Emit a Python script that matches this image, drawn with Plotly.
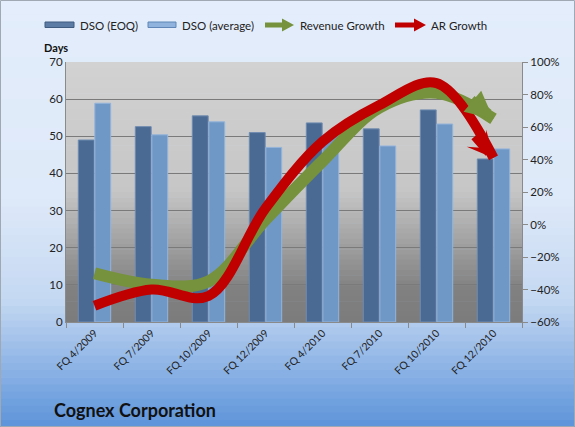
import plotly.graph_objects as go

# data
quarters = ["FQ 4/2009", "FQ 7/2009", "FQ 10/2009", "FQ 12/2009",
            "FQ 4/2010", "FQ 7/2010", "FQ 10/2010", "FQ 12/2010"]
dso_eoq = [49.0, 52.6, 55.5, 51.0, 53.6, 52.0, 57.1, 43.9]
dso_avg = [58.9, 50.4, 53.9, 47.0, 50.5, 47.4, 53.3, 46.6]
revenue_growth = [-0.30, -0.37, -0.35, 0.03, 0.39, 0.72, 0.81, 0.65]
ar_growth = [-0.50, -0.40, -0.44, 0.10, 0.51, 0.735, 0.87, 0.41]

W, H = 575, 427
M_L, M_R, M_T, M_B = 66, 53, 62, 105
PW, PH = W - M_L - M_R, H - M_T - M_B

EOQ_COL = "#4a6a93"
AVG_COL = "#7098c6"
REV_COL = "#76923c"
AR_COL = "#c00000"


def px_x(p):
    return (p - M_L) / PW


def px_y(p):
    return (H - M_B - p) / PH


def mix(c1, c2, t):
    return "rgb({},{},{})".format(*[round(a + (b - a) * t) for a, b in zip(c1, c2)])


def gradient(stops, x0, x1, y_top, y_bot, n=60):
    # stops: list of (pixel y, rgb tuple), drawn as thin horizontal bands
    shapes = []
    step = (y_bot - y_top) / n
    for i in range(n):
        ya = y_top + i * step
        yc = ya + step / 2
        col = mix(stops[-1][1], stops[-1][1], 0)
        for (p0, c0), (p1, c1) in zip(stops, stops[1:]):
            if p0 <= yc <= p1:
                col = mix(c0, c1, (yc - p0) / (p1 - p0))
                break
        shapes.append(dict(type="rect", xref="paper", yref="paper", layer="below",
                           x0=x0, x1=x1, y0=px_y(ya + step + 0.6), y1=px_y(ya),
                           line=dict(width=0), fillcolor=col))
    return shapes


def arrow_path(x0, x1, yc, half_shaft, head_len, half_head):
    xs = x1 - head_len
    pts = [(x0, yc - half_shaft), (xs, yc - half_shaft), (xs, yc - half_head), (x1, yc),
           (xs, yc + half_head), (xs, yc + half_shaft), (x0, yc + half_shaft)]
    return "M" + "L".join(f"{px_x(a):.5f},{px_y(b):.5f}" for a, b in pts) + "Z"


paper_bg = gradient([(0, (227, 237, 251)), (200, (222, 233, 249)),
                     (300, (196, 216, 242)), (427, (92, 147, 218))],
                    px_x(0), px_x(W), 0, H)
plot_bg = gradient([(62, (210, 210, 210)), (190, (198, 198, 198)),
                    (290, (128, 128, 128)), (322, (124, 124, 124))],
                   0, 1, 62, 322, n=50)
border = [dict(type="rect", xref="paper", yref="paper", layer="above",
               x0=px_x(0.5), x1=px_x(W - 0.5), y0=px_y(H - 0.5), y1=px_y(0.5),
               line=dict(color="#a0a8b4", width=1))]

# hand-drawn legend glyphs
legend_shapes = [
    dict(type="rect", xref="paper", yref="paper", x0=px_x(45), x1=px_x(74),
         y0=px_y(27.5), y1=px_y(22), fillcolor="#5c7ca6", line=dict(color="#3f5b80", width=1)),
    dict(type="rect", xref="paper", yref="paper", x0=px_x(148), x1=px_x(176),
         y0=px_y(27.5), y1=px_y(22), fillcolor="#8fb3dd", line=dict(color="#5f86b6", width=1)),
    dict(type="path", xref="paper", yref="paper", path=arrow_path(265, 294, 25, 2.5, 12, 6.5),
         fillcolor=REV_COL, line=dict(width=0)),
    dict(type="path", xref="paper", yref="paper", path=arrow_path(395, 426, 25, 2.5, 12, 6.5),
         fillcolor=AR_COL, line=dict(width=0)),
]
legend_labels = [("DSO (EOQ)", 78), ("DSO (average)", 180), ("Revenue Growth", 298), ("AR Growth", 429)]

fig = go.Figure()
fig.add_trace(go.Bar(x=quarters, y=dso_eoq, name="DSO (EOQ)",
                     marker=dict(color=EOQ_COL, line=dict(color="#6f8bb0", width=1))))
fig.add_trace(go.Bar(x=quarters, y=dso_avg, name="DSO (average)",
                     marker=dict(color=AVG_COL, line=dict(color="#94b4da", width=1))))
fig.add_trace(go.Scatter(x=quarters, y=revenue_growth, name="Revenue Growth", yaxis="y2",
                         mode="lines", line=dict(color=REV_COL, width=12, shape="spline")))
fig.add_trace(go.Scatter(x=quarters, y=ar_growth, name="AR Growth", yaxis="y2",
                         mode="lines", line=dict(color=AR_COL, width=10, shape="spline")))

annotations = [
    dict(text=t, xref="paper", yref="paper", x=px_x(x), y=px_y(25), xanchor="left",
         yanchor="middle", showarrow=False, font=dict(size=11.5, color="#222"))
    for t, x in legend_labels
]
# arrowheads at the end of the two growth lines
annotations += [
    dict(x=quarters[-1], y=revenue_growth[-1], xref="x", yref="y2", text="", showarrow=True,
         ax=-24, ay=-20, arrowhead=2, arrowsize=0.5, arrowwidth=11, arrowcolor=REV_COL),
    dict(x=quarters[-1], y=ar_growth[-1], xref="x", yref="y2", text="", showarrow=True,
         ax=-20, ay=-23, arrowhead=3, arrowsize=0.48, arrowwidth=9, arrowcolor=AR_COL),
]
annotations += [
    dict(text="<b>Days</b>", xref="paper", yref="paper", x=px_x(56), y=px_y(47),
         xanchor="center", yanchor="middle", showarrow=False, font=dict(size=11, color="#111")),
    dict(text="<b>Cognex Corporation</b>", xref="paper", yref="paper", x=px_x(52), y=px_y(410),
         xanchor="left", yanchor="middle", showarrow=False, font=dict(size=18, color="#111")),
]

fig.update_layout(
    width=W, height=H,
    margin=dict(l=M_L, r=M_R, t=M_T, b=M_B, autoexpand=False),
    paper_bgcolor="#e2ecfb", plot_bgcolor="#c8c8c8",
    font=dict(family="Lato, Open Sans, sans-serif", size=11, color="#222222"),
    barmode="group", bargap=0.42, bargroupgap=0.04,
    showlegend=False,
    xaxis=dict(tickangle=-45, tickson="boundaries", ticks="outside", ticklen=5,
               tickcolor="#8a8a8a", showline=True, linecolor="#8a8a8a",
               tickfont=dict(size=10.5)),
    yaxis=dict(range=[0, 70], dtick=10, showgrid=True, gridcolor="#7a7a7a", gridwidth=1,
               showline=True, linecolor="#8a8a8a", ticks="", zeroline=False,
               tickfont=dict(size=11.5)),
    yaxis2=dict(range=[-0.6, 1.0], dtick=0.2, tickformat=".0%", overlaying="y", side="right",
                showgrid=False, zeroline=False, showline=True, linecolor="#8a8a8a",
                ticks="outside", ticklen=5, tickcolor="#8a8a8a", tickfont=dict(size=11.5)),
    shapes=paper_bg + plot_bg + border + legend_shapes,
    annotations=annotations,
)

fig.write_html("out.html", config={"displayModeBar": False},
               post_script="document.body.style.margin='0';")
